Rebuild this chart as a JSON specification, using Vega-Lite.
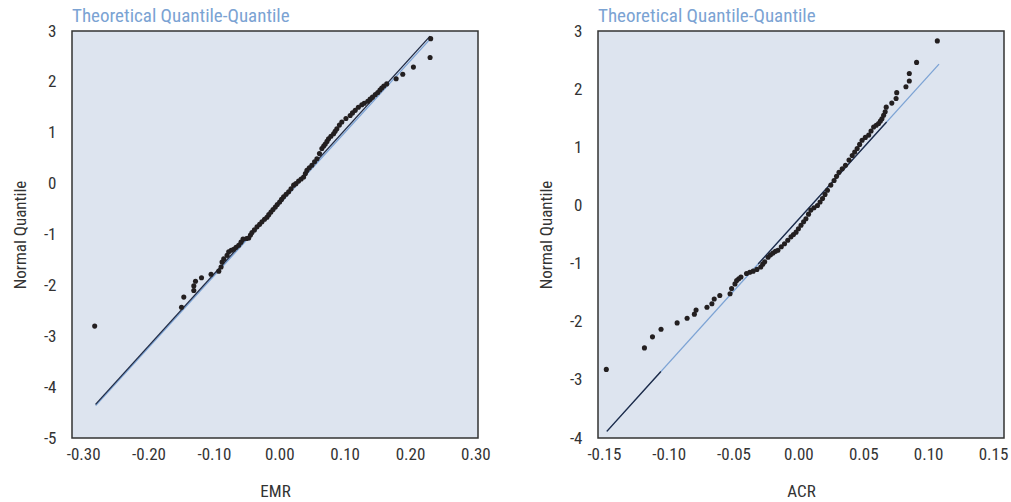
{
  "$schema": "https://vega.github.io/schema/vega-lite/v6.json",
  "background": "white",
  "padding": {"left": 10, "top": 6, "right": 0, "bottom": 2},
  "spacing": 120,
  "bounds": "flush",
  "datasets": {
    "emr": [
      {"x": -0.2823, "y": -2.80}, {"x": -0.1495, "y": -2.43}, {"x": -0.1460, "y": -2.23}, {"x": -0.1307, "y": -2.10},
      {"x": -0.1307, "y": -2.01}, {"x": -0.1281, "y": -1.92}, {"x": -0.1189, "y": -1.85}, {"x": -0.1043, "y": -1.78},
      {"x": -0.0925, "y": -1.72}, {"x": -0.0890, "y": -1.64}, {"x": -0.0875, "y": -1.54}, {"x": -0.0849, "y": -1.48},
      {"x": -0.0798, "y": -1.41}, {"x": -0.0773, "y": -1.34}, {"x": -0.0735, "y": -1.31}, {"x": -0.0696, "y": -1.29},
      {"x": -0.0660, "y": -1.25}, {"x": -0.0620, "y": -1.21}, {"x": -0.0585, "y": -1.15}, {"x": -0.0554, "y": -1.09},
      {"x": -0.0500, "y": -1.08}, {"x": -0.0467, "y": -1.07}, {"x": -0.0440, "y": -1.01}, {"x": -0.0417, "y": -0.96},
      {"x": -0.0380, "y": -0.91}, {"x": -0.0340, "y": -0.85}, {"x": -0.0300, "y": -0.80}, {"x": -0.0264, "y": -0.75},
      {"x": -0.0225, "y": -0.70}, {"x": -0.0188, "y": -0.66}, {"x": -0.0160, "y": -0.61}, {"x": -0.0127, "y": -0.56},
      {"x": -0.0095, "y": -0.51}, {"x": -0.0060, "y": -0.46}, {"x": -0.0030, "y": -0.41}, {"x": 0.0006, "y": -0.36},
      {"x": 0.0035, "y": -0.31}, {"x": 0.0067, "y": -0.26}, {"x": 0.0105, "y": -0.21}, {"x": 0.0144, "y": -0.16},
      {"x": 0.0180, "y": -0.10}, {"x": 0.0220, "y": -0.03}, {"x": 0.0255, "y": 0.00}, {"x": 0.0296, "y": 0.05},
      {"x": 0.0335, "y": 0.09}, {"x": 0.0373, "y": 0.13}, {"x": 0.0400, "y": 0.20}, {"x": 0.0423, "y": 0.26},
      {"x": 0.0460, "y": 0.31}, {"x": 0.0499, "y": 0.36}, {"x": 0.0540, "y": 0.43}, {"x": 0.0576, "y": 0.49},
      {"x": 0.0615, "y": 0.59}, {"x": 0.0652, "y": 0.69}, {"x": 0.0680, "y": 0.74}, {"x": 0.0704, "y": 0.78},
      {"x": 0.0730, "y": 0.83}, {"x": 0.0754, "y": 0.88}, {"x": 0.0790, "y": 0.93}, {"x": 0.0831, "y": 0.98},
      {"x": 0.0855, "y": 1.03}, {"x": 0.0881, "y": 1.08}, {"x": 0.0920, "y": 1.15}, {"x": 0.0957, "y": 1.21},
      {"x": 0.1020, "y": 1.28}, {"x": 0.1085, "y": 1.34}, {"x": 0.1120, "y": 1.39}, {"x": 0.1162, "y": 1.44},
      {"x": 0.1210, "y": 1.50}, {"x": 0.1263, "y": 1.55}, {"x": 0.1300, "y": 1.58}, {"x": 0.1354, "y": 1.62},
      {"x": 0.1390, "y": 1.66}, {"x": 0.1426, "y": 1.70}, {"x": 0.1470, "y": 1.75}, {"x": 0.1507, "y": 1.79},
      {"x": 0.1540, "y": 1.84}, {"x": 0.1568, "y": 1.88}, {"x": 0.1600, "y": 1.92}, {"x": 0.1644, "y": 1.96},
      {"x": 0.1788, "y": 2.06}, {"x": 0.1889, "y": 2.15}, {"x": 0.2052, "y": 2.29}, {"x": 0.2307, "y": 2.48},
      {"x": 0.2316, "y": 2.85}
    ],
    "emrLine": [
      {"x": -0.2808, "y": -4.36, "s": "blue"}, {"x": 0.2300, "y": 2.83, "s": "blue"},
      {"x": -0.2810, "y": -4.34, "s": "dark"}, {"x": 0.2307, "y": 2.90, "s": "dark"}
    ],
    "acr": [
      {"x": -0.1481, "y": -2.82}, {"x": -0.1187, "y": -2.45}, {"x": -0.1125, "y": -2.26}, {"x": -0.1059, "y": -2.13},
      {"x": -0.0935, "y": -2.02}, {"x": -0.0858, "y": -1.94}, {"x": -0.0802, "y": -1.87}, {"x": -0.0789, "y": -1.80},
      {"x": -0.0705, "y": -1.75}, {"x": -0.0667, "y": -1.69}, {"x": -0.0649, "y": -1.61}, {"x": -0.0606, "y": -1.55},
      {"x": -0.0527, "y": -1.52}, {"x": -0.0515, "y": -1.43}, {"x": -0.0489, "y": -1.35}, {"x": -0.0476, "y": -1.29},
      {"x": -0.0460, "y": -1.26}, {"x": -0.0443, "y": -1.23}, {"x": -0.0400, "y": -1.17}, {"x": -0.0375, "y": -1.15},
      {"x": -0.0349, "y": -1.13}, {"x": -0.0320, "y": -1.10}, {"x": -0.0290, "y": -1.06}, {"x": -0.0275, "y": -1.01},
      {"x": -0.0260, "y": -0.97}, {"x": -0.0234, "y": -0.89}, {"x": -0.0215, "y": -0.85}, {"x": -0.0196, "y": -0.82},
      {"x": -0.0177, "y": -0.79}, {"x": -0.0158, "y": -0.77}, {"x": -0.0132, "y": -0.71}, {"x": -0.0107, "y": -0.66},
      {"x": -0.0082, "y": -0.60}, {"x": -0.0057, "y": -0.54}, {"x": -0.0038, "y": -0.50}, {"x": -0.0018, "y": -0.46},
      {"x": 0.0000, "y": -0.40}, {"x": 0.0020, "y": -0.34}, {"x": 0.0040, "y": -0.28}, {"x": 0.0058, "y": -0.23},
      {"x": 0.0078, "y": -0.15}, {"x": 0.0096, "y": -0.08}, {"x": 0.0120, "y": -0.04}, {"x": 0.0147, "y": 0.00},
      {"x": 0.0167, "y": 0.06}, {"x": 0.0186, "y": 0.12}, {"x": 0.0205, "y": 0.19}, {"x": 0.0224, "y": 0.26},
      {"x": 0.0250, "y": 0.35}, {"x": 0.0275, "y": 0.43}, {"x": 0.0294, "y": 0.50}, {"x": 0.0313, "y": 0.57},
      {"x": 0.0338, "y": 0.63}, {"x": 0.0363, "y": 0.69}, {"x": 0.0390, "y": 0.78}, {"x": 0.0415, "y": 0.86},
      {"x": 0.0434, "y": 0.92}, {"x": 0.0453, "y": 0.98}, {"x": 0.0472, "y": 1.05}, {"x": 0.0491, "y": 1.12},
      {"x": 0.0516, "y": 1.17}, {"x": 0.0542, "y": 1.21}, {"x": 0.0560, "y": 1.28}, {"x": 0.0580, "y": 1.35},
      {"x": 0.0600, "y": 1.38}, {"x": 0.0618, "y": 1.41}, {"x": 0.0632, "y": 1.45}, {"x": 0.0644, "y": 1.49},
      {"x": 0.0657, "y": 1.55}, {"x": 0.0669, "y": 1.61}, {"x": 0.0677, "y": 1.69}, {"x": 0.0720, "y": 1.76},
      {"x": 0.0753, "y": 1.84}, {"x": 0.0758, "y": 1.94}, {"x": 0.0829, "y": 2.04}, {"x": 0.0855, "y": 2.14},
      {"x": 0.0855, "y": 2.27}, {"x": 0.0911, "y": 2.46}, {"x": 0.1071, "y": 2.83}
    ],
    "acrLine": [
      {"x": -0.1477, "y": -3.885, "s": "blue"}, {"x": 0.1084, "y": 2.43, "s": "blue"},
      {"x": -0.1477, "y": -3.885, "s": "darkA"}, {"x": -0.1060, "y": -2.857, "s": "darkA"},
      {"x": -0.0310, "y": -1.007, "s": "darkB"}, {"x": 0.0680, "y": 1.434, "s": "darkB"}
    ]
  },
  "hconcat": [
    {
      "width": 406,
      "height": 407,
      "title": {"text": "Theoretical Quantile-Quantile"},
      "layer": [
        {
          "data": {"name": "emrLine"},
          "mark": {"type": "line", "strokeWidth": 1.3},
          "encoding": {
            "x": {"field": "x", "type": "quantitative", "scale": {"domain": [-0.317, 0.304], "nice": false, "zero": false},
                  "axis": {"title": "EMR", "values": [-0.3, -0.2, -0.1, 0, 0.1, 0.2, 0.3], "format": ".2f"}},
            "y": {"field": "y", "type": "quantitative", "scale": {"domain": [-5, 3], "nice": false, "zero": false},
                  "axis": {"title": "Normal Quantile", "values": [-5, -4, -3, -2, -1, 0, 1, 2, 3], "format": "d"}},
            "detail": {"field": "s"},
            "color": {"field": "s", "type": "nominal", "scale": {"domain": ["blue", "dark"], "range": ["#7ca3d4", "#1f2a44"]}, "legend": null}
          }
        },
        {
          "data": {"name": "emr"},
          "mark": {"type": "circle", "size": 26, "color": "#231f20", "opacity": 1},
          "encoding": {
            "x": {"field": "x", "type": "quantitative"},
            "y": {"field": "y", "type": "quantitative"}
          }
        }
      ]
    },
    {
      "width": 406,
      "height": 407,
      "title": {"text": "Theoretical Quantile-Quantile"},
      "layer": [
        {
          "data": {"name": "acrLine"},
          "mark": {"type": "line", "strokeWidth": 1.3},
          "encoding": {
            "x": {"field": "x", "type": "quantitative", "scale": {"domain": [-0.1545, 0.1585], "nice": false, "zero": false},
                  "axis": {"title": "ACR", "values": [-0.15, -0.1, -0.05, 0, 0.05, 0.1, 0.15], "format": ".2f"}},
            "y": {"field": "y", "type": "quantitative", "scale": {"domain": [-4, 3], "nice": false, "zero": false},
                  "axis": {"title": "Normal Quantile", "values": [-4, -3, -2, -1, 0, 1, 2, 3], "format": "d"}},
            "detail": {"field": "s"},
            "color": {"field": "s", "type": "nominal", "scale": {"domain": ["blue", "darkA", "darkB"], "range": ["#7ca3d4", "#1f2a44", "#1f2a44"]}, "legend": null}
          }
        },
        {
          "data": {"name": "acr"},
          "mark": {"type": "circle", "size": 26, "color": "#231f20", "opacity": 1},
          "encoding": {
            "x": {"field": "x", "type": "quantitative"},
            "y": {"field": "y", "type": "quantitative"}
          }
        }
      ]
    }
  ],
  "resolve": {"scale": {"color": "independent"}},
  "config": {
    "locale": {"number": {"decimal": ".", "thousands": ",", "grouping": [3], "currency": ["$", ""], "minus": "-"}},
    "font": "Roboto Condensed, Roboto, sans-serif",
    "view": {"fill": "#dde4ef", "stroke": "#333333", "strokeWidth": 1.5},
    "title": {"anchor": "start", "frame": "group", "font": "Roboto Condensed, Roboto, sans-serif", "fontSize": 19, "fontWeight": "normal", "color": "#7ba3d3", "offset": -4},
    "axis": {
      "grid": false, "ticks": false, "domain": false,
      "labelFont": "Roboto Condensed, Roboto, sans-serif", "labelFontSize": 17, "labelColor": "#333333",
      "titleFont": "Roboto Condensed, Roboto, sans-serif", "titleFontSize": 17, "titleFontWeight": "normal", "titleColor": "#333333"
    },
    "axisX": {"labelPadding": 8, "titlePadding": 21},
    "axisY": {"labelPadding": 16, "titlePadding": 14}
  }
}
